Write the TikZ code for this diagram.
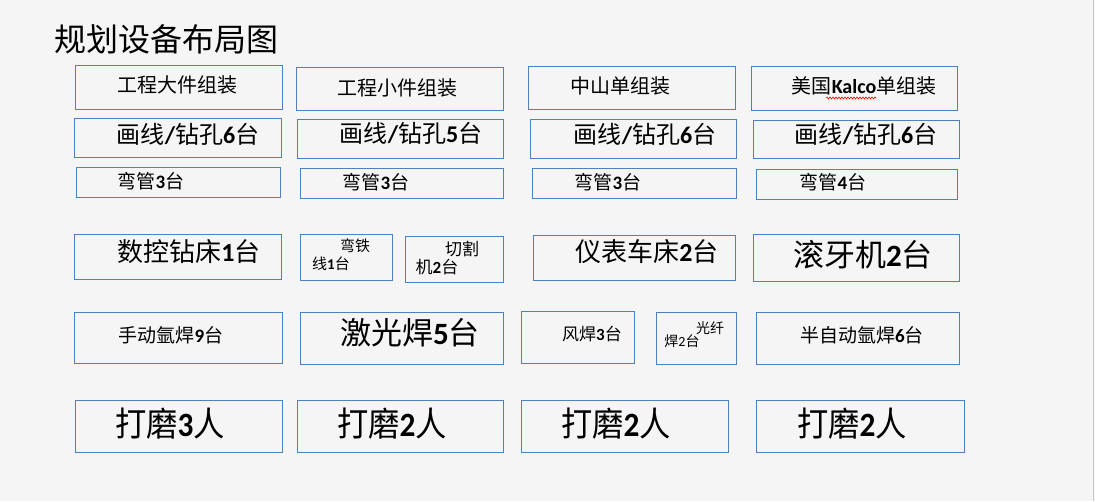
\documentclass[tikz,border=0pt]{standalone}
\usepackage{fontspec}
\setmainfont{Noto Sans CJK SC}
\newfontfamily\latf{Carlito}
\usetikzlibrary{decorations.pathmorphing}
\definecolor{bg}{HTML}{F5F5F5}
\definecolor{bord}{HTML}{4F81BD}
\newcommand\nm[1]{{\latf\bfseries #1}}
\newcommand\fs[1]{\fontsize{#1}{#1}\selectfont}
\newcommand\bx[5]{\node[boxst, minimum width={#4-#2}, minimum height={#5-#3}] (#1) at ({(#2+#4)/2},{(#3+#5)/2}) {};}
\tikzset{
  boxst/.style={draw=bord, line width=1pt, inner sep=0pt, rectangle},
  lbl/.style={inner sep=0pt, text=black, anchor=center}
}
\begin{document}
\begin{tikzpicture}[x=1pt,y=-1pt]
\fill[bg] (0,0) rectangle (1095,501);
\useasboundingbox (0,0) rectangle (1095,501);
\draw[color=black!22, line width=1.5pt] (1093.5,0) -- (1093.5,501);
% title
\node[lbl] (title) at (166,39) {\fs{32}规划设备布局图};
% row 1
\bx{a1}{75}{65}{282}{109}
\bx{a2}{296}{67}{503}{110}
\bx{a3}{528}{66}{735}{109}
\bx{a4}{751}{66}{957}{110}
\node[lbl] (ta1) at (177,85) {\fs{20}工程大件组装};
\node[lbl] (ta2) at (397,88) {\fs{20}工程小件组装};
\node[lbl] (ta3) at (620,86) {\fs{20}中山单组装};
\node[lbl] (ta4) at (864,86) {\fs{20}美国\nm{Kalco}单组装};
\coordinate (sqA) at (826,98);
\coordinate (sqB) at (876,98);
\draw[red, line width=0.6pt, decorate, decoration={snake, amplitude=1pt, segment length=3pt}] (sqA) -- (sqB);
% row 2
\bx{b1}{74}{118}{281}{157}
\bx{b2}{297}{119}{503}{158}
\bx{b3}{530}{119}{736}{158}
\bx{b4}{753}{120}{959}{158}
\node[lbl] (tb1) at (188,134) {\fs{24}画线\nm{/}钻孔\nm{6}台};
\node[lbl] (tb2) at (411,133) {\fs{24}画线\nm{/}钻孔\nm{5}台};
\node[lbl] (tb3) at (645,134) {\fs{24}画线\nm{/}钻孔\nm{6}台};
\node[lbl] (tb4) at (866,134) {\fs{24}画线\nm{/}钻孔\nm{6}台};
% row 3
\bx{c1}{76}{167}{280}{197}
\bx{c2}{300}{168}{503}{198}
\bx{c3}{532}{168}{736}{198}
\bx{c4}{756}{169}{957}{199}
\node[lbl] (tc1) at (151,181) {\fs{19}弯管\nm{3}台};
\node[lbl] (tc2) at (376,182) {\fs{19}弯管\nm{3}台};
\node[lbl] (tc3) at (608,182) {\fs{19}弯管\nm{3}台};
\node[lbl] (tc4) at (833,182) {\fs{19}弯管\nm{4}台};
% row 4
\bx{d1}{74}{234}{281}{279}
\bx{d2}{300}{234}{392}{280}
\bx{d3}{405}{236}{503}{282}
\bx{d4}{533}{235}{735}{280}
\bx{d5}{753}{234}{959}{281}
\node[lbl] (td1) at (189,252) {\fs{26}数控钻床\nm{1}台};
\node[lbl] (td2a) at (355,246) {\fs{15}弯铁};
\node[lbl] (td2b) at (331,264) {\fs{15}线\nm{1}台};
\node[lbl] (td3a) at (462,249) {\fs{17}切割};
\node[lbl] (td3b) at (437,267) {\fs{17}机\nm{2}台};
\node[lbl] (td4) at (647,252) {\fs{26}仪表车床\nm{2}台};
\node[lbl] (td5) at (863,255) {\fs{31}滚牙机\nm{2}台};
% row 5
\bx{e1}{74}{312}{282}{363}
\bx{e2}{300}{312}{503}{364}
\bx{e3}{521}{311}{634}{363}
\bx{e4}{656}{312}{736}{364}
\bx{e5}{756}{312}{959}{364}
\node[lbl] (te1) at (171,335) {\fs{19}手动氩焊\nm{9}台};
\node[lbl] (te2) at (410,333) {\fs{31}激光焊\nm{5}台};
\node[lbl] (te3) at (592,334) {\fs{17}风焊\nm{3}台};
\node[lbl] (te4a) at (710,328) {\fs{14}光纤};
\node[lbl] (te4b) at (682,341) {\fs{14}焊{\latf 2}台};
\node[lbl] (te5) at (862,335) {\fs{19}半自动氩焊\nm{6}台};
% row 6
\bx{f1}{75}{400}{282}{452}
\bx{f2}{297}{400}{503}{452}
\bx{f3}{521}{400}{728}{452}
\bx{f4}{756}{400}{964}{452}
\node[lbl, xscale=0.92] (tf1) at (170,424) {\fs{34}打磨\nm{3}人};
\node[lbl, xscale=0.92] (tf2) at (392,424) {\fs{34}打磨\nm{2}人};
\node[lbl, xscale=0.92] (tf3) at (616,424) {\fs{34}打磨\nm{2}人};
\node[lbl, xscale=0.92] (tf4) at (852,424) {\fs{34}打磨\nm{2}人};
\end{tikzpicture}
\end{document}
